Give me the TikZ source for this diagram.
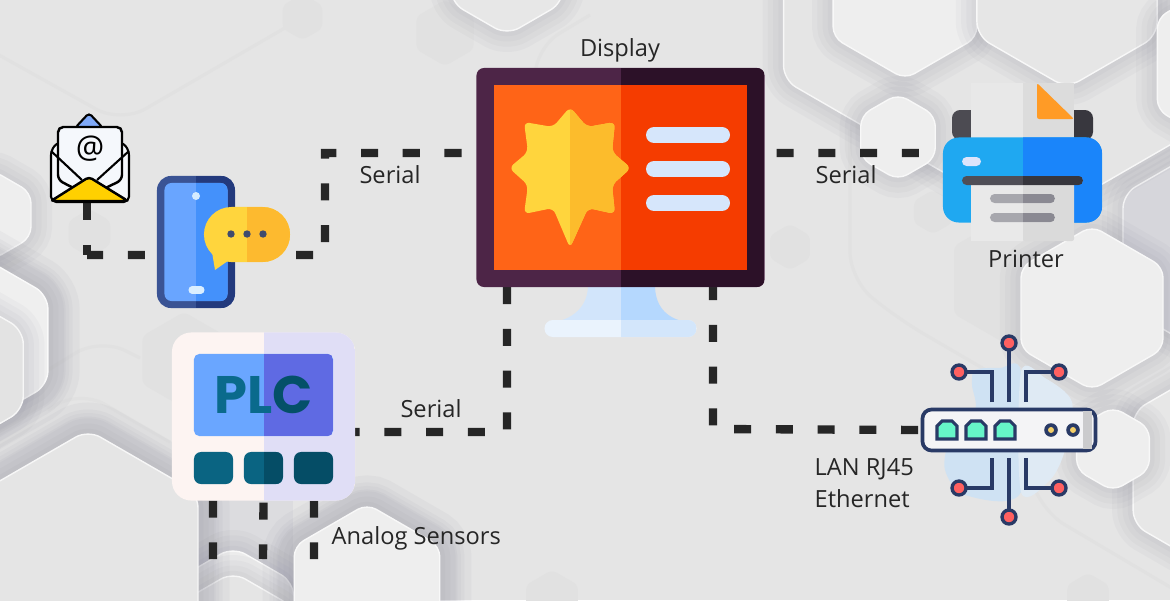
\documentclass[tikz,border=0pt]{standalone}
\usepackage{fontspec}
\setmainfont{Open Sans}
\newfontfamily\plcfont{Poppins}

\newcommand{\hexdef}[1]{\definecolor{#1}{HTML}{#1}}
\hexdef{E7E7E7}\hexdef{D6D6DB}\hexdef{E5E5E5}\hexdef{E6E6E6}\hexdef{EFEFEF}\hexdef{E3E3E3}\hexdef{ECECEC}
\hexdef{D4EBFF}\hexdef{D9EEFF}\hexdef{FFD53D}\hexdef{3F4B6E}\hexdef{3A5394}\hexdef{233A7D}\hexdef{69A5FF}\hexdef{4491FB}\hexdef{FDBA2F}
\hexdef{D2E5FB}\hexdef{B5D8FE}\hexdef{EAF3FD}\hexdef{D3E6FB}\hexdef{4D2547}\hexdef{2C1128}\hexdef{FF6417}\hexdef{F53C00}\hexdef{FCBC2C}\hexdef{D6E6FB}
\hexdef{4C4B52}\hexdef{38373E}\hexdef{E8E8E8}\hexdef{DCDCDC}\hexdef{FF9B26}\hexdef{1FA8F1}\hexdef{1A85FA}\hexdef{E9E9E9}\hexdef{DADADA}\hexdef{DDE4FB}\hexdef{4F4E56}\hexdef{37363D}\hexdef{A7A7AD}\hexdef{8A8992}
\hexdef{FDF4F2}\hexdef{E0DEF6}\hexdef{6AA6FF}\hexdef{5F6AE3}\hexdef{0A6482}\hexdef{054D66}\hexdef{0A6A8C}\hexdef{045068}
\hexdef{CFE2F3}\hexdef{DFEAF4}\hexdef{F4F4F6}\hexdef{CBCBCD}\hexdef{66F5C8}\hexdef{F4CF68}\hexdef{FF6060}\hexdef{7FA9F8}\hexdef{F5F8FC}\hexdef{FFD000}

\definecolor{ground}{HTML}{E5E5E5}
\definecolor{cellpale}{HTML}{EEEEEE}
\definecolor{cellrim}{HTML}{F8F8F8}
\definecolor{cellfaint}{HTML}{E1E1E1}
\definecolor{cellshade}{HTML}{6E6E80}
\definecolor{ink}{HTML}{262626}
\definecolor{navy}{HTML}{293A66}

% pointy-top hexagon: style, centre x, centre y, radius
\newcommand{\hexcell}[4][]{
	\path[#1] ({#2},{#3-#4}) -- ({#2+.866*#4},{#3-.5*#4}) -- ({#2+.866*#4},{#3+.5*#4}) -- ({#2},{#3+#4}) -- ({#2-.866*#4},{#3+.5*#4}) -- ({#2-.866*#4},{#3-.5*#4}) -- cycle;
}
\newcommand{\badgeoutline}{(570,107) -- (587,127) -- (615,122) -- (612,152) -- (631,168) -- (612,185) -- (615,214) -- (588,208) -- (570,248) -- (553,208) -- (524,214) -- (528,185) -- (509,168) -- (528,152) -- (524,122) -- (553,127) -- cycle}

\begin{document}
\begin{tikzpicture}[x=0.01cm,y=-0.01cm]
	\tikzstyle{Soft} = [preaction={draw=cellshade, fill=none, draw opacity=.045, line width=12pt},
		preaction={draw=cellshade, fill=none, draw opacity=.045, line width=9pt},
		preaction={draw=cellshade, fill=none, draw opacity=.045, line width=6pt},
		preaction={draw=cellshade, fill=none, draw opacity=.045, line width=3pt}]
	\tikzstyle{Deep} = [preaction={draw=cellshade, fill=none, draw opacity=.05, line width=18pt},
		preaction={draw=cellshade, fill=none, draw opacity=.05, line width=14pt},
		preaction={draw=cellshade, fill=none, draw opacity=.05, line width=10pt}]
	\tikzstyle{Cell} = [Soft, fill=cellpale, draw=cellrim, line width=0.4pt, rounded corners=3pt]
	\tikzstyle{Plain} = [Soft, fill=#1, draw=white!70!#1, line width=0.4pt, rounded corners=4pt]
	\tikzstyle{Faint} = [fill=cellfaint, rounded corners=1.5pt]
	\tikzstyle{Ribbon} = [line width=0.9pt, color=cellfaint, rounded corners=8pt]
	\tikzstyle{Caption} = [inner sep=0pt, text=ink, font=\fontsize{6.72}{9.1}\selectfont]
	\tikzstyle{Link} = [line width=2.37pt, ink, dash pattern=on 4.84pt off 7.03pt]
	\tikzstyle{Icon} = [rectangle, inner sep=0pt, outer sep=0pt]
	\tikzset{halves/.style 2 args={fill=#1, path picture={\fill[#2, sharp corners] (path picture bounding box.north) rectangle (path picture bounding box.south east);}}}
	\tikzstyle{Trace} = [line width=1.05pt, navy]
	\tikzstyle{Tip} = [fill=FF6060, draw=navy, line width=0.95pt]

	\clip (0,0) rectangle (1170,600);
	\useasboundingbox (0,0) rectangle (1170,600);
	\fill[ground] (0,0) rectangle (1170,600);

	% background
	\draw[Ribbon] (-10,50) -- (121,123) -- (290,25);
	\draw[Ribbon] (850,130) -- (850,280) -- (900,320) -- (1020,390);
	\draw[Ribbon] (1032,480) -- (1040,510) -- (1175,590);
	\draw[Ribbon] (535,80) -- (535,48) -- (590,15);
	\draw[Ribbon] (48,370) -- (100,338) -- (140,358);
	\draw[Ribbon] (48,410) -- (80,390) -- (170,442);
	\hexcell[Faint]{89.5}{233}{24}
	\hexcell[Faint]{302.5}{17}{23}
	\hexcell[Faint]{445}{33}{33}
	\hexcell[Faint]{184}{360}{48}
	\hexcell[Faint]{933}{212}{22}
	\hexcell[Faint]{790}{247}{23}
	\hexcell[Faint]{1088}{597}{24}
	\hexcell[Faint]{1013}{280}{68}
	\hexcell[Faint]{552}{600}{30}
	\hexcell[Plain=E7E7E7]{507}{-30}{65}
	\hexcell[Plain=D6D6DB]{1220}{250}{112}
	\hexcell[Plain=E5E5E5]{1033}{-64}{288}
	\hexcell[Cell]{905}{-4}{83}
	\hexcell[Plain=E6E6E6]{1067}{-16}{104}
	\hexcell[Cell]{1237}{64}{92}
	\hexcell[Cell]{898}{137}{43}
	\hexcell[Plain=E7E7E7]{1231}{468}{113}
	\hexcell[Cell]{1092}{308}{82}
	\hexcell[Cell]{1113}{449}{42}
	\hexcell[Cell]{-8}{215}{45}
	\hexcell[Deep, Plain=EFEFEF]{-30}{340}{90}
	\hexcell[Plain=E3E3E3]{-46}{370}{80}
	\fill[D6D6DB!60!E5E5E5] (198,495) rectangle (293,600);
	\hexcell[Plain=ECECEC]{233}{617}{70}
	\hexcell[Plain=E5E5E5]{233}{642}{70}
	\hexcell[Deep, Plain=E5E5E5]{88}{557}{127}
	\hexcell[Deep, Cell]{367}{588}{84}

	% icons that the links attach to
	\node (phone) [Icon, minimum width=0.78cm, minimum height=1.32cm] at (196,242) {};
	\node (chat) [Icon, minimum width=0.86cm, minimum height=0.55cm] at (247,234.5) {};
	\node (mail) [Icon, minimum width=0.80cm, minimum height=0.90cm] at (87,158) {};
	\node (disp) [Icon, minimum width=2.88cm, minimum height=2.19cm] at (620.5,177.5) {};
	\node (printer) [Icon, minimum width=1.59cm, minimum height=0.85cm] at (1022.5,180) {};
	\node (plc) [Icon, minimum width=1.83cm, minimum height=1.68cm] at (263.5,416.5) {};
	\node (router) [Icon, minimum width=1.76cm, minimum height=0.44cm] at (1009,430) {};

	\coordinate (mailbend) at (87,255);
	\coordinate (sens1) at (213,559);
	\coordinate (sens2) at (263,559);
	\coordinate (sens3) at (314,559);

	% links
	\draw[Link] (mail.south) -- (mailbend);
	\draw[Link] ([xshift=-0.12cm,yshift=-0.13cm]phone.west) -- (mailbend);
	\draw[Link] ([xshift=0.06cm,yshift=-0.205cm]chat.east) -- (325,255) -- (325,153) -- ([yshift=0.245cm]disp.west);
	\draw[Link] ([xshift=0.12cm,yshift=0.245cm]disp.east) -- ([yshift=0.27cm]printer.west);
	\draw[Link] ([xshift=-1.135cm]disp.south) -- (507,432) -- ([yshift=-0.155cm]plc.east);
	\draw[Link] ([xshift=0.925cm,yshift=0.04cm]disp.south) -- (713,429) -- (router.west);
	\draw[Link] ([xshift=-0.505cm]plc.south) -- (sens1);
	\draw[Link] ([yshift=-0.02cm]plc.south) -- (sens2);
	\draw[Link] ([xshift=0.505cm]plc.south) -- (sens3);

	% mail
	\fill[7FA9F8, draw=black, line width=0.6pt, rounded corners=1pt] (75,128) -- (89,113) -- (103,128) -- cycle;
	\fill[F5F8FC, draw=black, line width=0.6pt, rounded corners=1.5pt] (51,150) -- (58,142) -- (122,142) -- (129,150) -- (129,202) -- (51,202) -- cycle;
	\fill[F5F8FC, draw=black, line width=0.7pt, rounded corners=1.5pt] (58,180) -- (58,127) -- (122,127) -- (122,180) -- (89,196) -- cycle;
	\draw[black, line width=0.6pt] (51,151) -- (82,180) (129,151) -- (97,180);
	\fill[FFD000, draw=black, line width=0.7pt, rounded corners=1pt] (51,201) -- (89,177) -- (128,201) -- cycle;
	\node (mailat) [inner sep=0pt, font=\fontsize{9}{9}\selectfont] at (90,149) {@};

	% phone
	\node (phonecase) [Icon, halves={3A5394}{233A7D}, rounded corners=4pt, minimum width=0.78cm, minimum height=1.32cm] at (196,242) {};
	\node (phonescreen) [Icon, halves={69A5FF}{4491FB}, rounded corners=2pt, minimum width=0.63cm, minimum height=1.18cm] at (196,242) {};
	\fill[D4EBFF] (196,196) circle (0.04cm);
	\draw[D9EEFF, line width=2pt, line cap=round] (192,290) -- (201,290);
	\fill[FFD53D] (212,252) -- (215,270) -- (232,258) -- cycle;
	\node (bubble) [Icon, halves={FFD53D}{FDBA2F}, rounded corners=7.8pt, minimum width=0.86cm, minimum height=0.55cm] at (247,234.5) {};
	\foreach \dotx in {231,247,263}
		\fill[3F4B6E] (\dotx,234) circle (0.037cm);

	% display
	\fill[D2E5FB] (621,285) -- (588,285) .. controls (588,305) and (575,318) .. (555,322) -- (621,322) -- cycle;
	\fill[B5D8FE] (621,285) -- (655,285) .. controls (655,305) and (665,318) .. (686,322) -- (621,322) -- cycle;
	\node (stand) [Icon, halves={EAF3FD}{D3E6FB}, rounded corners=2.4pt, minimum width=1.52cm, minimum height=0.17cm] at (620.5,328.5) {};
	\node (frame) [Icon, halves={4D2547}{2C1128}, rounded corners=2.2pt, minimum width=2.88cm, minimum height=2.19cm] at (620.5,177.5) {};
	\node (screen) [Icon, halves={FF6417}{F53C00}, minimum width=2.53cm, minimum height=1.85cm] at (620.5,177.5) {};
	\fill[FFD53D, rounded corners=1.6pt] \badgeoutline;
	\begin{scope}
		\clip (570,100) rectangle (640,250);
		\fill[FCBC2C, rounded corners=1.6pt] \badgeoutline;
	\end{scope}
	\foreach \bary in {135,169,203}
		\draw[D6E6FB, line width=4.55pt, line cap=round] (654,\bary) -- (722,\bary);

	% printer
	\fill[4C4B52, rounded corners=2.3pt] (952,140) -- (952,110) -- (1023,110) -- (1023,140) -- cycle;
	\fill[38373E, rounded corners=2.3pt] (1023,140) -- (1023,110) -- (1093,110) -- (1093,140) -- cycle;
	\fill[E8E8E8] (971,83) rectangle (1023,140);
	\fill[DCDCDC] (1023,83) rectangle (1074,140);
	\fill[FF9B26, rounded corners=0.6pt] (1037,83) -- (1074,119) -- (1037,119) -- cycle;
	\node (pbody) [Icon, halves={1FA8F1}{1A85FA}, rounded corners=4.5pt, minimum width=1.59cm, minimum height=0.85cm] at (1022.5,180) {};
	\fill[E9E9E9] (971,180) rectangle (1023,241);
	\fill[DADADA, rounded corners=0.6pt] (1023,180) -- (1074,180) -- (1074,241) -- (1023,241) -- cycle;
	\fill[DDE4FB, rounded corners=1.3pt] (962,157) rectangle (981,166);
	\node (pslot) [Icon, halves={4F4E56}{37363D}, rounded corners=1.3pt, minimum width=1.21cm, minimum height=0.09cm] at (1022.5,180.5) {};
	\node (pbar1) [Icon, halves={A7A7AD}{8A8992}, rounded corners=1.3pt, minimum width=0.65cm, minimum height=0.09cm] at (1022.5,198.5) {};
	\node (pbar2) [Icon, halves={A7A7AD}{8A8992}, rounded corners=1.3pt, minimum width=0.65cm, minimum height=0.09cm] at (1022.5,217.5) {};

	% plc
	\node (pcase) [Icon, halves={FDF4F2}{E0DEF6}, rounded corners=5.5pt, minimum width=1.83cm, minimum height=1.68cm] at (263.5,416.5) {};
	\node (pscreen) [Icon, halves={6AA6FF}{5F6AE3}, rounded corners=1.5pt, minimum width=1.39cm, minimum height=0.82cm] at (263.5,395) {};
	\node (pkey1) [Icon, fill=0A6482, rounded corners=2pt, minimum width=0.39cm, minimum height=0.32cm] at (213.5,468) {};
	\node (pkey2) [Icon, halves={0A6482}{054D66}, rounded corners=2pt, minimum width=0.39cm, minimum height=0.32cm] at (263.5,468) {};
	\node (pkey3) [Icon, fill=054D66, rounded corners=2pt, minimum width=0.39cm, minimum height=0.32cm] at (313.5,468) {};
	\node (plcname) [inner sep=0pt, font=\plcfont\bfseries\fontsize{15}{15}\selectfont] at (263.5,395) {\textcolor{0A6A8C}{PL}\textcolor{045068}{C}};

	% router
	\fill[CFE2F3] plot[smooth cycle] coordinates {(975,370) (1000,368) (1021,372) (1021,492) (965,495) (945,470) (950,440) (975,410) (972,385)};
	\fill[DFEAF4] plot[smooth cycle] coordinates {(1021,372) (1045,378) (1072,402) (1065,450) (1050,480) (1021,492)};
	\draw[Trace] (1009,402) -- (1009,343);
	\draw[Trace] (992,402) -- (992,372) -- (959,372);
	\draw[Trace] (1026,402) -- (1026,372) -- (1059,372);
	\draw[Trace] (1009,458) -- (1009,517);
	\draw[Trace] (992,458) -- (992,488) -- (959,488);
	\draw[Trace] (1026,458) -- (1026,488) -- (1059,488);
	\foreach \tipx/\tipy in {1009/343,959/372,1059/372,1009/517,959/488,1059/488}
		\draw[Tip] (\tipx,\tipy) circle (0.07cm);
	\node (rbox) [Icon, fill=F4F4F6, draw=navy, line width=1.05pt, rounded corners=2.6pt, minimum width=1.73cm, minimum height=0.41cm] at (1009,430) {};
	\fill[CBCBCD] (1083,411) rectangle (1092,449);
	\foreach \portx in {947,976,1005}
		\draw[fill=66F5C8, draw=navy, line width=0.9pt] (\portx-10,439) -- (\portx-10,426) -- (\portx-5,421) -- (\portx+5,421) -- (\portx+10,426) -- (\portx+10,439) -- cycle;
	\foreach \ledx in {1051,1073} {
		\fill[navy] (\ledx,430) circle (0.068cm);
		\fill[F4CF68] (\ledx,430) circle (0.03cm);
	}

	% captions
	\node (dlabel) [Caption] at (620,50.5) {Display};
	\node (s1) [Caption] at (390,175) {Serial};
	\node (s2) [Caption] at (846,175) {Serial};
	\node (s3) [Caption] at (431,409) {Serial};
	\node (plabel) [Caption] at (1026,259) {Printer};
	\node (lan) [Caption, align=left, anchor=west] at (814,483) {LAN RJ45\\Ethernet};
	\node (sensors) [Caption, anchor=west] at (331,538) {Analog Sensors};
\end{tikzpicture}
\end{document}
